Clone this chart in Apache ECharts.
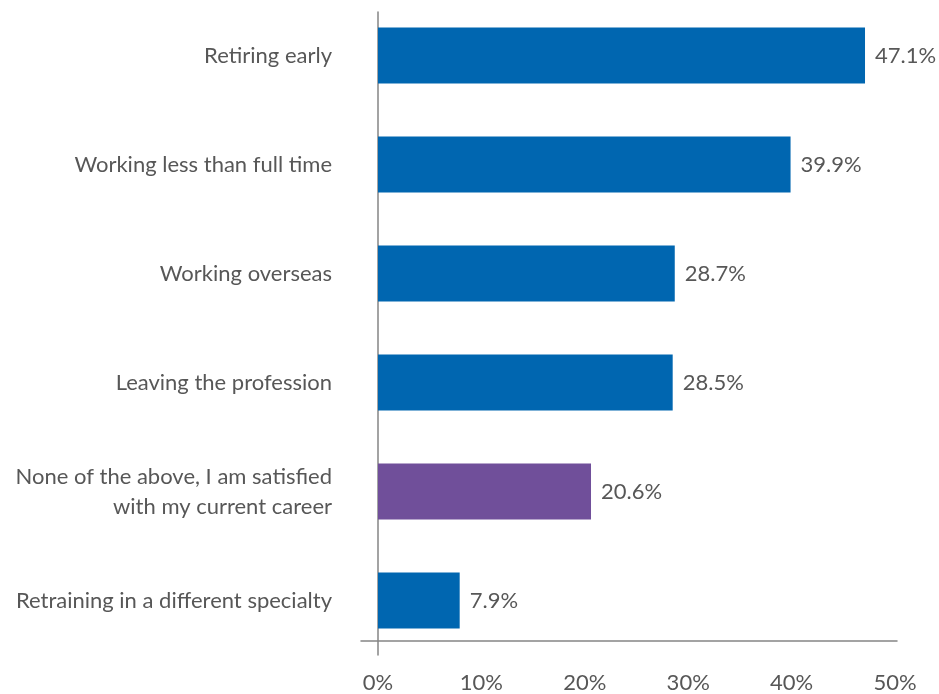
<!DOCTYPE html>
<html>
<head>
<meta charset="utf-8">
<script src="https://cdn.jsdelivr.net/npm/echarts@6/dist/echarts.min.js"></script>
<style>
  html, body { margin: 0; padding: 0; background: #fff; }
  #chart { width: 939px; height: 694px; }
</style>
</head>
<body>
<div id="chart"></div>
<script>
// Career plans survey: share of respondents (%)
const categories = [
  'Retiring early',
  'Working less than full time',
  'Working overseas',
  'Leaving the profession',
  'None of the above, I am satisfied\nwith my current career',
  'Retraining in a different specialty'
];
const values = [47.1, 39.9, 28.7, 28.5, 20.6, 7.9];
const barColors = ['#0066b0', '#0066b0', '#0066b0', '#0066b0', '#704f9a', '#0066b0'];
const xTicks = { min: 0, max: 50, interval: 10 };

const textColor = '#575757';
const lineColor = '#858585';
const fontFamily = 'Lato, "Open Sans", sans-serif';
const fontSize = 22;

const chart = echarts.init(document.getElementById('chart'), null, { renderer: 'canvas' });

chart.setOption({
  animation: false,
  backgroundColor: '#ffffff',
  grid: [
    // bars and labels
    { left: 378, right: 44, top: 1, bottom: 38, containLabel: false },
    // vertical axis line
    { left: 378, right: 44, top: 12, bottom: 39, containLabel: false },
    // horizontal axis line
    { left: 361, right: 42, top: 0, bottom: 53, containLabel: false }
  ],
  xAxis: [
    {
      gridIndex: 0,
      type: 'value',
      min: xTicks.min,
      max: xTicks.max,
      interval: xTicks.interval,
      axisLine: { show: false },
      axisTick: { show: false },
      splitLine: { show: false },
      axisLabel: {
        formatter: '{value}%',
        color: textColor,
        fontFamily: fontFamily,
        fontSize: fontSize,
        margin: 17
      }
    },
    {
      gridIndex: 1, type: 'value', min: 0, max: 1, show: false
    },
    {
      gridIndex: 2,
      type: 'value',
      min: 0,
      max: 1,
      axisLine: { show: true, onZero: false, lineStyle: { color: lineColor, width: 1.5 } },
      axisTick: { show: false },
      axisLabel: { show: false },
      splitLine: { show: false }
    }
  ],
  yAxis: [
    {
      gridIndex: 0,
      type: 'category',
      data: categories,
      inverse: true,
      axisLine: { show: false },
      axisTick: { show: false },
      axisLabel: {
        color: textColor,
        fontFamily: fontFamily,
        fontSize: fontSize,
        lineHeight: 30,
        margin: 46,
        align: 'right',
        padding: [4, 0, 0, 0]
      }
    },
    {
      gridIndex: 1,
      type: 'value',
      min: 0,
      max: 1,
      axisLine: { show: true, onZero: false, lineStyle: { color: lineColor, width: 1.5 } },
      axisTick: { show: false },
      axisLabel: { show: false },
      splitLine: { show: false }
    },
    {
      gridIndex: 2, type: 'value', min: 0, max: 1, show: false
    }
  ],
  series: [
    {
      type: 'bar',
      xAxisIndex: 0,
      yAxisIndex: 0,
      barWidth: 56,
      data: values.map((v, i) => ({ value: v, itemStyle: { color: barColors[i] } })),
      label: {
        show: true,
        position: 'right',
        distance: 10,
        formatter: p => p.value.toFixed(1) + '%',
        color: textColor,
        fontFamily: fontFamily,
        fontSize: fontSize,
        padding: [4, 0, 0, 0]
      }
    }
  ]
});
</script>
</body>
</html>
